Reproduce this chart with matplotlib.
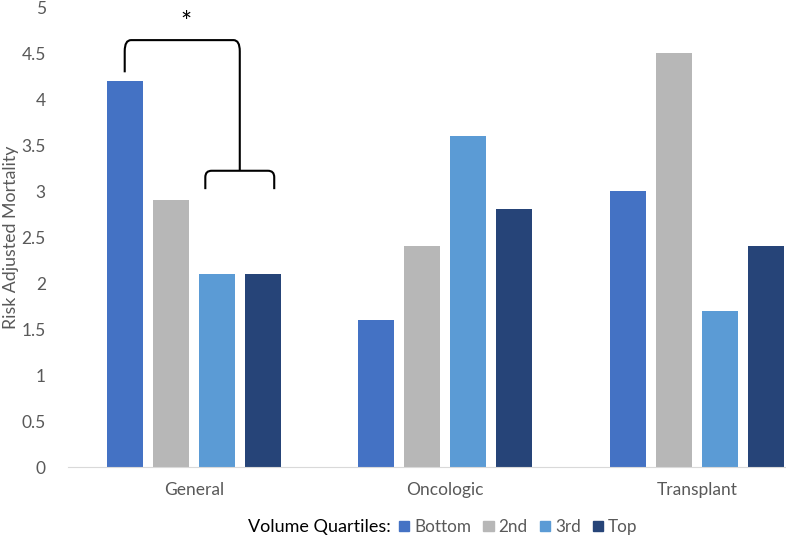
import matplotlib.pyplot as plt
import numpy as np
from matplotlib.path import Path
from matplotlib.patches import PathPatch, Patch

# Datos

categorias = ["General", "Oncologic", "Transplant"]
cuartiles = ["Bottom", "2nd", "3rd", "Top"]
bottom = [4.2, 1.6, 3.0]
segundo = [2.9, 2.4, 4.5]
tercero = [2.1, 3.6, 1.7]
top = [2.1, 2.8, 2.4]
colores = ["#4472C4", "#B7B7B7", "#5B9BD5", "#264478"]

plt.rcParams["font.family"] = ["Lato", "DejaVu Sans"]
gris = "#595959"

fig = plt.figure(figsize=(7.86, 5.39), dpi=100)
ax = fig.add_axes([68 / 786, 1 - 467 / 539, 754.5 / 786, 460 / 539])

x = np.arange(len(categorias))
ancho = 0.143
paso = 0.183
series = [bottom, segundo, tercero, top]
for i, (vals, col) in enumerate(zip(series, colores)):
    ax.bar(x + (i - 1.5) * paso, vals, ancho, color=col, label=cuartiles[i])

ax.set_xlim(-0.5, 2.5)
ax.set_ylim(0, 5)
ax.set_yticks(np.arange(0, 5.01, 0.5))
ax.set_yticklabels([f"{v:g}" for v in np.arange(0, 5.01, 0.5)])
ax.set_xticks(x)
ax.set_xticklabels(categorias)
ax.tick_params(axis="both", length=0, colors=gris, labelsize=12.5)
ax.tick_params(axis="x", pad=11)
ax.tick_params(axis="y", pad=16)
for s in ["left", "right", "top"]:
    ax.spines[s].set_visible(False)
ax.spines["bottom"].set_color("#D9D9D9")
ax.set_ylabel("Risk Adjusted Mortality", color=gris, fontsize=12.8)
ax.yaxis.set_label_coords(-0.065, 0.5)

# Corchetes de significancia
xa = 0 - 1.5 * paso
xm = 0 + 1.0 * paso
r = 0.025
yt, ya = 4.64, 4.29
codigos = [Path.MOVETO, Path.LINETO, Path.CURVE3, Path.CURVE3,
           Path.LINETO, Path.CURVE3, Path.CURVE3, Path.LINETO]
verts = [(xa, ya), (xa, yt - 0.12), (xa, yt), (xa + r, yt),
         (xm - r, yt), (xm, yt), (xm, yt - 0.12), (xm, 3.22)]
ax.add_patch(PathPatch(Path(verts, codigos), fill=False, lw=1.5, color="black"))

h = 0.137
yb, yb2 = 3.22, 3.02
verts2 = [(xm - h, yb2), (xm - h, yb - 0.07), (xm - h, yb), (xm - h + r, yb),
          (xm + h - r, yb), (xm + h, yb), (xm + h, yb - 0.07), (xm + h, yb2)]
ax.add_patch(PathPatch(Path(verts2, codigos), fill=False, lw=1.5, color="black"))
ax.text(-0.03, 4.82, "*", ha="center", va="center", fontsize=19)

# Leyenda
fig.text(319 / 786, 1 - 527 / 539, "Volume Quartiles:", ha="center", va="center",
         fontsize=13, color="black")
manijas = [Patch(color=c) for c in colores]
fig.legend(manijas, cuartiles, loc="center left", bbox_to_anchor=(399 / 786, 1 - 527 / 539),
           ncol=4, frameon=False, fontsize=12.3, labelcolor=gris, handlelength=0.6,
           handleheight=0.6, handletextpad=0.3, columnspacing=0.7, borderpad=0,
           borderaxespad=0)

fig.savefig("out.png", dpi=100)
